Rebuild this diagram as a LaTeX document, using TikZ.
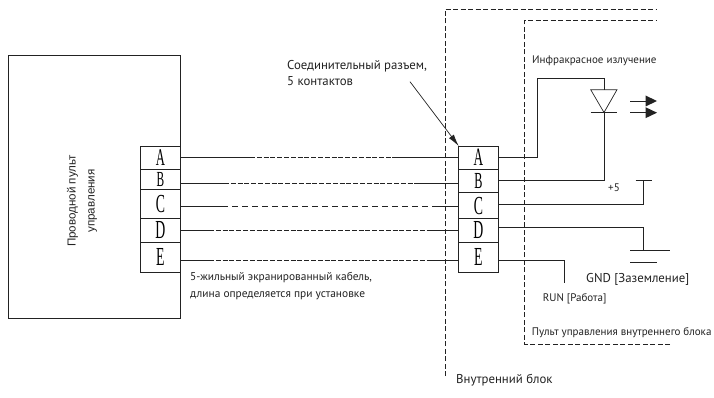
\documentclass[tikz,border=0pt]{standalone}
\usepackage{fontspec}
\setmainfont{PT Sans}
\newfontfamily\pinfont{Liberation Serif}
\newfontfamily\arialfont{Liberation Sans}
\usetikzlibrary{arrows.meta}
\definecolor{ink}{HTML}{222222}
\tikzset{
  px/.style={x=1pt,y=-1pt},
  wire/.style={draw=ink,line width=0.9pt},
  thinw/.style={draw=ink,line width=0.7pt},
  dashw/.style={draw=ink,line width=0.8pt,dash pattern=on 5pt off 1.8pt},
  dashl/.style={draw=ink,line width=0.8pt,dash pattern=on 6pt off 4pt},
  bound/.style={draw=ink,line width=0.8pt,dash pattern=on 5pt off 2.5pt},
  pin/.style={draw=ink,line width=0.9pt,minimum width=39.5pt,inner sep=0pt,outer sep=0pt,anchor=north west,font=\pinfont},
  lbl/.style={inner sep=0pt,anchor=west,text=ink,align=left},
  big/.style={lbl,font=\fontsize{12.8}{16.5}\selectfont},
  mid/.style={lbl,font=\fontsize{11.4}{16.5}\selectfont},
  small/.style={lbl,font=\fontsize{11}{13}\selectfont},
}
\newcommand{\pinletter}[2][26]{\fontsize{#1}{#1}\selectfont\raisebox{-1pt}{\scalebox{0.53}[1]{#2}}}
\begin{document}
\begin{tikzpicture}[px]
\useasboundingbox (0,0) rectangle (714,398);
\node[draw=ink,line width=0.9pt,minimum width=172pt,minimum height=263.5pt,inner sep=0pt,outer sep=0pt,anchor=north west] (remote) at (8,55) {};
\node[rotate=90,text=ink,align=center,inner sep=0pt,font=\arialfont\fontsize{11.6}{19}\selectfont] (remotetext) at (82,201) {Проводной пульт\\управления};
% left pins
\node[pin,minimum height=23pt] (la) at (140.7,146) {\pinletter[24]{A}};
\node[pin,minimum height=20pt] (lb) at (140.7,169) {\pinletter[21.5]{B}};
\node[pin,minimum height=29.7pt] (lc) at (140.7,189) {\pinletter{C}};
\node[pin,minimum height=23.3pt] (ld) at (140.7,218.7) {\pinletter{D}};
\node[pin,minimum height=30pt] (le) at (140.7,242) {\pinletter{E}};
% right pins
\node[pin,minimum height=23pt] (ra) at (458.7,146) {\pinletter[25]{A}};
\node[pin,minimum height=23.7pt] (rb) at (458.7,169) {\pinletter[23]{B}};
\node[pin,minimum height=26pt] (rc) at (458.7,192.7) {\pinletter{C}};
\node[pin,minimum height=23.3pt] (rd) at (458.7,218.7) {\pinletter{D}};
\node[pin,minimum height=30pt] (re) at (458.7,242) {\pinletter{E}};
% boundaries
\coordinate (o1) at (445,376); \coordinate (o2) at (445,9); \coordinate (o3) at (657,9);
\draw[bound] (o1) -- (o2) -- (o3);
\coordinate (i1) at (670,344); \coordinate (i2) at (524.5,344); \coordinate (i3) at (524.5,20.5); \coordinate (i4) at (657,20.5);
\draw[bound] (i1) -- (i2) -- (i3) -- (i4);
% cable
\draw[wire] (la.east |- 0,157.3) -- (250,157.3);
\draw[dashw] (250,157.3) -- (392,157.3);
\draw[wire] (392,157.3) -- (ra.west |- 0,157.3);
\draw[wire] (lb.east |- 0,183.3) -- (224,183.3);
\draw[dashw] (224,183.3) -- (419,183.3);
\draw[wire] (419,183.3) -- (rb.west |- 0,183.3);
\draw[wire] (lc.east |- 0,206.7) -- (222,206.7);
\draw[dashl] (222,206.7) -- (432,206.7);
\draw[wire] (432,206.7) -- (rc.west |- 0,206.7);
\draw[wire] (ld.east |- 0,230.3) -- (209,230.3);
\draw[dashw] (209,230.3) -- (427,230.3);
\draw[wire] (427,230.3) -- (rd.west |- 0,230.3);
\draw[wire] (le.east |- 0,260.3) -- (209,260.3);
\draw[dashw] (209,260.3) -- (427,260.3);
\draw[wire] (427,260.3) -- (re.west |- 0,260.3);
% callout
\coordinate (c1) at (410,81.7);
\draw[thinw,-{Latex[length=12pt,width=6pt]}] (c1) -- (ra.north west);
% diode
\coordinate (dt) at (604,89.7); \coordinate (dk) at (604,112.5);
\draw[thinw] (590.7,89.7) -- (617,89.7) -- (dk) -- cycle;
\draw[thinw] (590.7,112.5) -- (617,112.5);
\draw[wire] (ra.east |- 0,157.5) -| (537.5,78.3) -| (dt);
\draw[wire] (dk) |- (rb.east |- 0,180.3);
% emission arrows
\foreach \yy in {101,112.7}{
  \draw[thinw] (630,\yy) -- (646,\yy);
  \fill[ink] (645.5,\yy-5.5) -- (657,\yy) -- (645.5,\yy+5.5) -- cycle;
}
% +5
\draw[wire] (rc.east |- 0,204) -| (643,180.3);
\draw[wire] (635.7,180.3) -- (652,180.3);
% GND
\draw[wire] (rd.east |- 0,227.3) -| (643,250.7);
\draw[wire] (630,250.7) -- (670,250.7);
\draw[wire] (630,262.3) -- (657,262.3);
% RUN
\draw[wire] (re.east |- 0,260.7) -| (564.3,283);
% labels
\node[big] (t1) at (287,73) {Соединительный разъем,\\5 контактов};
\node[mid] (t2) at (190,286) {5-жильный экранированный кабель,\\длина определяется при установке};
\node[small] (t3) at (532,61) {Инфракрасное излучение};
\node[small] (t4) at (608,187.5) {+5};
\node[big] (t5) at (586,279) {GND [Заземление]};
\node[small] (t6) at (542.7,299) {RUN [Работа]};
\node[small] (t7) at (531.7,333) {Пульт управления внутреннего блока};
\node[big] (t8) at (456,380) {Внутренний блок};
\end{tikzpicture}
\end{document}
